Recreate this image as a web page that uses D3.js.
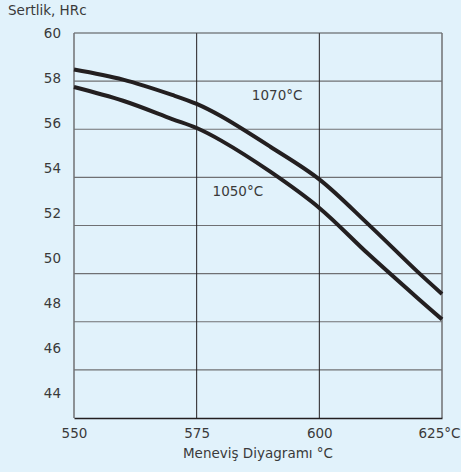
<!DOCTYPE html>
<html>
<head>
<meta charset="utf-8">
<script src="https://cdn.jsdelivr.net/npm/d3@7"></script>
<style>
  html, body { margin: 0; padding: 0; background: #e1f2fb; }
  text { font-family: "DejaVu Sans", Verdana, sans-serif; fill: #3a3a3a; }
</style>
</head>
<body>
<div id="chart"></div>
<script>
// data
let temps = [550, 560, 570, 575, 580, 590, 600, 610, 620, 625];
let hrc1070 = [58.38, 57.93, 57.25, 56.85, 56.3, 54.95, 53.5, 51.5, 49.4, 48.41];
let hrc1050 = [57.6, 56.99, 56.18, 55.78, 55.22, 53.84, 52.23, 50.18, 48.23, 47.28];
let xTicks = [550, 575, 600, 625];
let yTicks = [44, 46, 48, 50, 52, 54, 56, 58, 60];
let seriesNames = ["1070°C", "1050°C"];
let labelAt = [[591.4, 57.25], [583.4, 52.98]];

let width = 461,
    height = 472;
let margin = {top: 33, right: 19, bottom: 54, left: 74};
let fontSize = "13.5px";

let svg = d3.select("#chart").append("svg")
    .attr("width", width)
    .attr("height", height)
    .style("background-color", "#e1f2fb");

let x = d3.scaleLinear()
    .domain([550, 625])
    .range([margin.left, width - margin.right]);
let y = d3.scaleLinear()
    .domain([42.9, 60])
    .range([height - margin.bottom, margin.top]);

//horizontal grid: 8 equal bands across the plot
let bandH = (y.range()[0] - y.range()[1]) / 8;
svg.append("g")
    .selectAll("line")
    .data(d3.range(1, 8))
    .enter().append("line")
    .attr("x1", x(550)).attr("x2", x(625))
    .attr("y1", d => y.range()[1] + d * bandH)
    .attr("y2", d => y.range()[1] + d * bandH)
    .attr("stroke", "#6f7073")
    .attr("stroke-width", 1.2);

//vertical grid lines
svg.append("g")
    .selectAll("line")
    .data(xTicks.slice(1, -1))
    .enter().append("line")
    .attr("x1", d => x(d)).attr("x2", d => x(d))
    .attr("y1", y(60)).attr("y2", y(42.9))
    .attr("stroke", "#231f20")
    .attr("stroke-width", 1);

//frame
svg.append("line")
    .attr("x1", x(550)).attr("x2", x(625))
    .attr("y1", y(60)).attr("y2", y(60))
    .attr("stroke", "#4d4d4f").attr("stroke-width", 1.2);
svg.append("line")
    .attr("x1", x(550)).attr("x2", x(550))
    .attr("y1", y(60)).attr("y2", y(42.9))
    .attr("stroke", "#6f7073").attr("stroke-width", 1.5);
svg.append("line")
    .attr("x1", x(625)).attr("x2", x(625))
    .attr("y1", y(60)).attr("y2", y(42.9))
    .attr("stroke", "#6f7073").attr("stroke-width", 1.5);

//x axis
let xAxis = d3.axisBottom(x)
    .tickValues(xTicks)
    .tickSize(0)
    .tickPadding(10)
    .tickFormat(d => d === 625 ? "625°C" : d);
let gx = svg.append("g")
    .attr("transform", `translate(0,${y(42.9)})`)
    .call(xAxis);
gx.select(".domain").attr("stroke", "#231f20").attr("stroke-width", 1.5);
gx.selectAll("text")
    .style("font-size", fontSize)
    .attr("fill", "#3a3a3a")
    .attr("dx", d => d === 625 ? "-3" : "0");

//y axis labels
let yAxis = d3.axisLeft(y)
    .tickValues(yTicks)
    .tickSize(0)
    .tickPadding(13);
let gy = svg.append("g")
    .attr("transform", `translate(${x(550)},0)`)
    .call(yAxis);
gy.select(".domain").remove();
gy.selectAll("text")
    .style("font-size", fontSize)
    .attr("fill", "#3a3a3a");

//curves
let line = d3.line()
    .x((d, i) => x(temps[i]))
    .y(d => y(d))
    .curve(d3.curveCatmullRom.alpha(0.5));

[hrc1070, hrc1050].forEach(s => {
    svg.append("path")
        .attr("d", line(s))
        .attr("fill", "none")
        .attr("stroke", "#231f20")
        .attr("stroke-width", 4);
});

//curve labels
svg.selectAll(".lbl")
    .data(seriesNames)
    .enter().append("text")
    .attr("class", "lbl")
    .attr("x", (d, i) => x(labelAt[i][0]))
    .attr("y", (d, i) => y(labelAt[i][1]))
    .attr("text-anchor", "middle")
    .attr("dy", "0.35em")
    .style("font-size", fontSize)
    .text(d => d);

//axis titles
svg.append("text")
    .attr("x", 8).attr("y", 15)
    .style("font-size", fontSize)
    .text("Sertlik, HRc");
svg.append("text")
    .attr("x", (x(550) + x(625)) / 2).attr("y", 458)
    .attr("text-anchor", "middle")
    .style("font-size", fontSize)
    .text("Meneviş Diyagramı °C");
</script>
</body>
</html>
